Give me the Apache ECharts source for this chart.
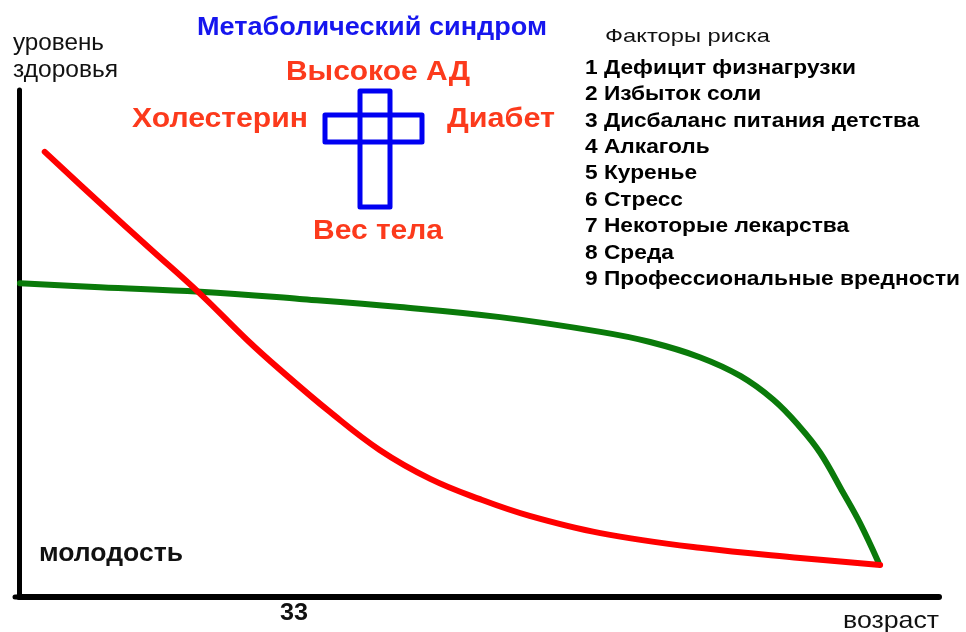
<!DOCTYPE html>
<html><head><meta charset="utf-8">
<script src="https://cdn.jsdelivr.net/npm/echarts@6/dist/echarts.min.js"></script>
<style>html,body{margin:0;padding:0;background:#fff}#c{width:966px;height:632px}</style>
</head><body><div id="c"></div>
<script>
// Data (x: age scale 0-100, y: health level 0-100)
const redX = [2.8, 8.8, 14.2, 19.7, 24.8, 28.4, 33.8, 39.2, 44.7, 50.1, 55.5, 63.2, 74.0, 84.9, 93.6];
const redY = [87.8, 77.7, 68.8, 59.8, 50.7, 44.8, 36.5, 29.0, 23.3, 19.3, 16.0, 12.6, 9.7, 7.7, 6.3];
const greenX = [0.1, 8.8, 19.7, 30.5, 41.4, 52.3, 63.2, 68.6, 74.0, 78.4, 82.0, 84.9, 87.1, 89.6, 91.4, 93.4];
const greenY = [61.9, 61.1, 60.2, 58.8, 57.2, 55.2, 52.3, 50.3, 47.3, 43.6, 38.9, 33.5, 28.4, 20.5, 14.6, 6.9];
const riskTitle = 'Факторы риска';
const riskFactors = ['1 Дефицит физнагрузки','2 Избыток соли','3 Дисбаланс питания детства','4 Алкаголь','5 Куренье','6 Стресс','7 Некоторые лекарства','8 Среда','9 Профессиональные вредности'];
const syndromeTitle = 'Метаболический синдром';
const syndromeParts = ['Высокое АД','Холестерин','Диабет','Вес тела'];
const yAxisName = ['уровень','здоровья'];
const xAxisName = 'возраст';
const xTickLabel = '33';
const youthLabel = 'молодость';

const F = '"Liberation Sans", Arial, sans-serif';
const RED_T = '#fc3a1c';
const pair = (xs, ys) => xs.map((x, i) => [x, ys[i]]);

const ctx = document.createElement('canvas').getContext('2d');
function measure(text, size, weight) {
  ctx.font = (weight || 'normal') + ' ' + size + 'px ' + F;
  return ctx.measureText(text).width;
}
const graphic = [];
// place text between x1..x2 (stretched horizontally to fit), vertically centred on yc
function fitText(x1, x2, yc, text, size, color, weight, sx) {
  const scaleX = sx || (x2 - x1) / measure(text, size, weight);
  graphic.push({type:'text', x:x1, y:yc, scaleX:scaleX, z:10,
    style:{text:text, fontSize:size, fontFamily:F, fill:color, fontWeight:weight||'normal', textAlign:'left', textVerticalAlign:'middle'}});
  return scaleX;
}
fitText(197, 547, 28, syndromeTitle, 25, '#1616ee', 'bold');
fitText(13, 104, 44, yAxisName[0], 23, '#111', 'normal');
fitText(13, 118, 71, yAxisName[1], 23, '#111', 'normal');
fitText(286, 470, 72, syndromeParts[0], 28, RED_T, 'bold');
fitText(132, 308, 119, syndromeParts[1], 28, RED_T, 'bold');
fitText(447, 555, 119, syndromeParts[2], 28, RED_T, 'bold');
fitText(313, 443, 231, syndromeParts[3], 28, RED_T, 'bold');
fitText(605, 770, 37, riskTitle, 19, '#111', 'normal');
const listScale = (960 - 585) / measure(riskFactors[8], 21, 'bold');
riskFactors.forEach((t, i) => fitText(585, 0, 68 + i * 26.4, t, 21, '#000', 'bold', listScale));
fitText(39, 183, 554, youthLabel, 26, '#111', 'bold');
fitText(280, 308, 613, xTickLabel, 24, '#111', 'bold');
fitText(843, 939, 621, xAxisName, 24, '#111', 'normal');
// cross
graphic.push({type:'rect', shape:{x:360, y:91, width:30, height:116}, style:{fill:'none', stroke:'#0000f2', lineWidth:5, lineJoin:'round'}, z:10});
graphic.push({type:'rect', shape:{x:325, y:115, width:97, height:27}, style:{fill:'none', stroke:'#0000f2', lineWidth:5, lineJoin:'round'}, z:10});
graphic.push({type:'line', shape:{x1:15, y1:597, x2:20, y2:597}, style:{stroke:'#000', lineWidth:5, lineCap:'round'}, z:10});

const chart = echarts.init(document.getElementById('c'));
chart.setOption({
  animation: false,
  backgroundColor: '#ffffff',
  grid: {left: 19, top: 90, right: 27, bottom: 35, containLabel: false},
  xAxis: {type:'value', min:0, max:100, axisLine:{show:true, lineStyle:{color:'#000', width:6, cap:'round'}}, axisTick:{show:false}, axisLabel:{show:false}, splitLine:{show:false}},
  yAxis: {type:'value', min:0, max:100, axisLine:{show:true, lineStyle:{color:'#000', width:5, cap:'round'}}, axisTick:{show:false}, axisLabel:{show:false}, splitLine:{show:false}},
  series: [
    {type:'line', data: pair(greenX, greenY), smooth:0.4, showSymbol:false, lineStyle:{color:'#0a7a0a', width:6, cap:'round', join:'round'}},
    {type:'line', data: pair(redX, redY), smooth:0.4, showSymbol:false, lineStyle:{color:'#ff0000', width:6, cap:'round', join:'round'}, z:3}
  ],
  graphic: graphic
});
</script></body></html>
